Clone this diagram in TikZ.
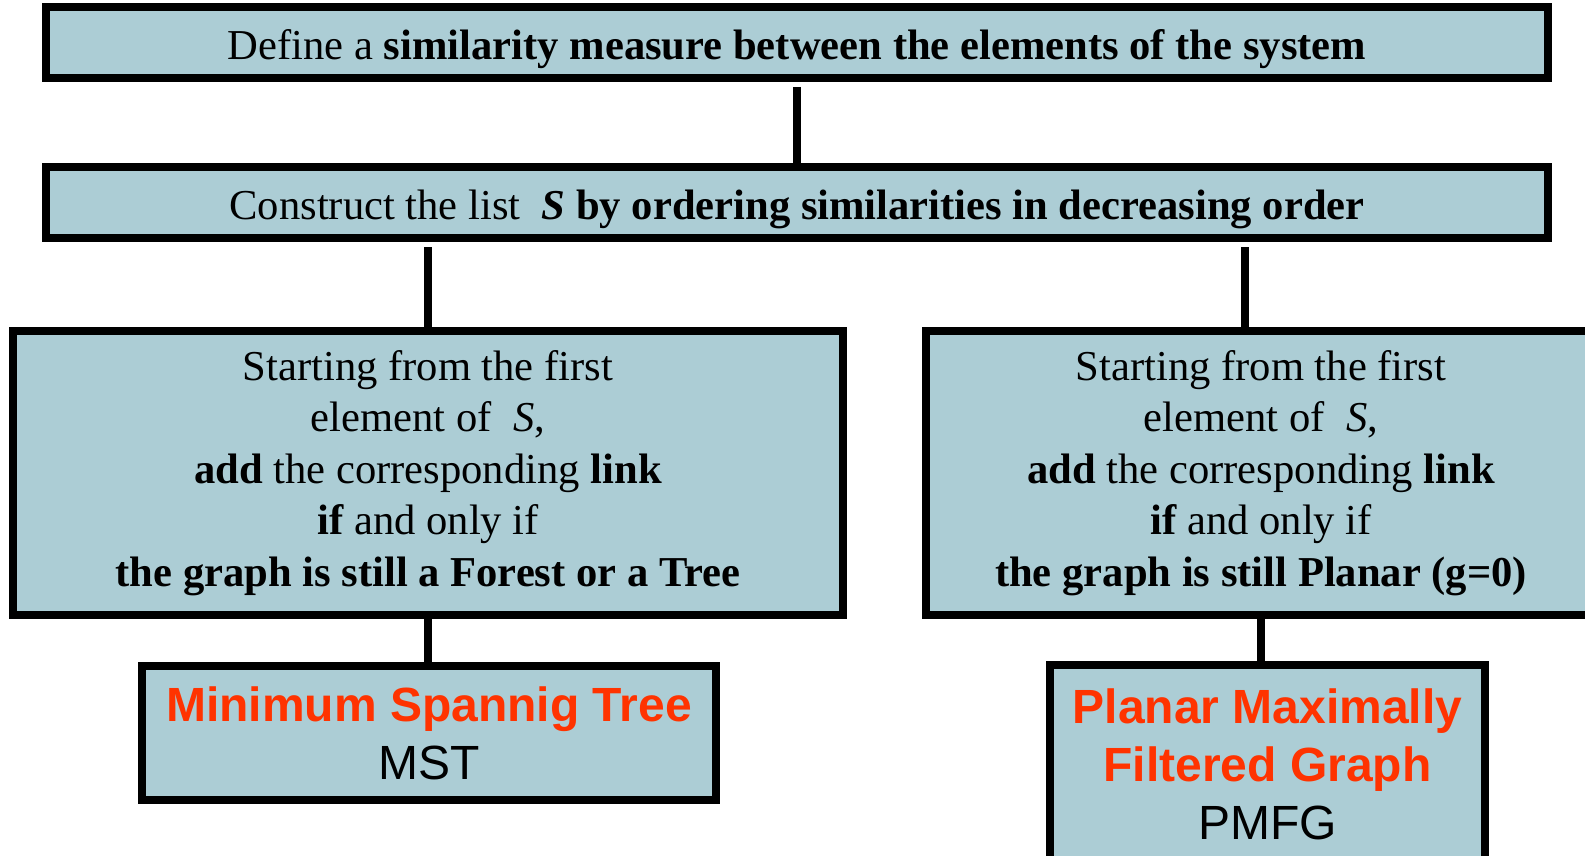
\documentclass[tikz,border=0pt]{standalone}
\usepackage{fontspec}
\setmainfont{Liberation Serif}
\newfontfamily\labelfont{Liberation Sans}
\definecolor{boxblue}{RGB}{172,205,213}
\definecolor{labelred}{RGB}{255,51,0}
\tikzset{
  stepbox/.style={draw=black, line width=4pt, fill=boxblue, inner sep=0pt, align=center,
    font=\fontsize{21.3}{25.8}\selectfont},
  headbox/.style={stepbox, minimum width=751pt, minimum height=35.5pt, text height=17pt, text depth=0pt},
  result/.style={stepbox, font=\labelfont\fontsize{24}{29}\selectfont},
  link/.style={line width=4pt},
}
\newcommand{\redbold}[1]{\textcolor{labelred}{\textbf{#1}}}

\begin{document}
\begin{tikzpicture}[x=0.5pt,y=-0.5pt]
\useasboundingbox (0,0) rectangle (1585,856);
% the two steps common to both filters
\node[headbox] (def) at (797,42.5)
  {Define a \textbf{similarity measure between the elements of the system}};
\node[headbox] (list) at (797,202.5)
  {Construct the list \ \textbf{\textit{S} by ordering similarities in decreasing order}};
% the two rules
\node[stepbox, minimum width=415pt, minimum height=142pt] (mst) at (428,473)
  {Starting from the first\\ element of \ \textit{S},\\ \textbf{add} the corresponding \textbf{link}\\
   \textbf{if} and only if\\ \textbf{the graph is still a Forest or a Tree}};
\node[stepbox, minimum width=335pt, minimum height=142pt] (pmfg) at (1261,473)
  {Starting from the first\\ element of \ \textit{S},\\ \textbf{add} the corresponding \textbf{link}\\
   \textbf{if} and only if\\ \textbf{the graph is still Planar (g=0)}};
% the results
\node[result, minimum width=287pt, minimum height=67pt] (mstname) at (429,733)
  {\redbold{Minimum Spannig Tree}\\ MST};
\node[result, minimum width=217.5pt, minimum height=99.5pt] (pmfgname) at (1267.5,764)
  {\redbold{Planar Maximally}\\ \redbold{Filtered Graph}\\ PMFG};
% connectors
\draw[link, shorten <=2.5pt] (def) -- (list);
\draw[link, shorten <=2.5pt] (list.south -| mst) -- (mst);
\draw[link, shorten <=2.5pt] ([xshift=-8pt]list.south -| pmfg) -- ([xshift=-8pt]pmfg.north);
\draw[link] (mst) -- (mst |- mstname.north);
\draw[link] (pmfg) -- (pmfg |- pmfgname.north);
\end{tikzpicture}
\end{document}
